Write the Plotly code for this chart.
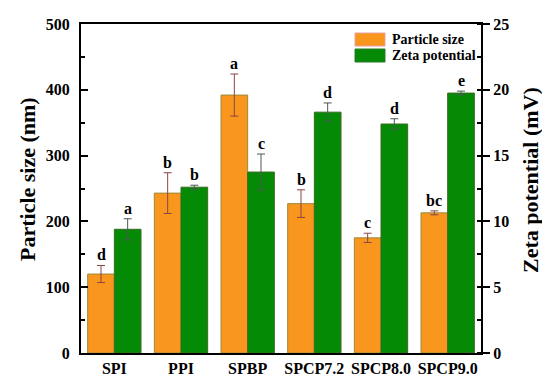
import plotly.graph_objects as go

categories = ["SPI", "PPI", "SPBP", "SPCP7.2", "SPCP8.0", "SPCP9.0"]
particle_size = [120, 243, 392, 227, 175, 213]
particle_err = [13, 31, 32, 21, 7, 3]
zeta = [9.4, 12.6, 13.75, 18.3, 17.4, 19.75]
zeta_err = [0.8, 0.15, 1.37, 0.7, 0.4, 0.15]
size_letters = ["d", "b", "a", "b", "c", "bc"]
zeta_letters = ["a", "b", "c", "d", "d", "e"]

FONT = "Liberation Serif, Times New Roman, serif"
ORANGE = "#F8961E"
GREEN = "#058A05"

fig = go.Figure()
fig.add_trace(go.Bar(
    x=categories, y=particle_size, name="Particle size",
    marker=dict(color=ORANGE, line=dict(color="#9A8A3A", width=1)),
    error_y=dict(type="data", array=particle_err, color="#8B4545", thickness=1, width=4),
    width=0.4, offset=-0.4, yaxis="y", showlegend=False,
))
fig.add_trace(go.Bar(
    x=categories, y=zeta, name="Zeta potential",
    marker=dict(color=GREEN, line=dict(color="#3A6A22", width=1)),
    error_y=dict(type="data", array=zeta_err, color="#4A5A55", thickness=1, width=4),
    width=0.4, offset=0.0, yaxis="y2", showlegend=False,
))

annotations = []
for i in range(len(categories)):
    annotations.append(dict(x=i - 0.2, y=particle_size[i] + particle_err[i], xref="x", yref="y",
                            text="<b>%s</b>" % size_letters[i], showarrow=False, yanchor="bottom",
                            yshift=0, font=dict(family=FONT, size=16, color="black")))
    annotations.append(dict(x=i + 0.2, y=zeta[i] + zeta_err[i], xref="x", yref="y2",
                            text="<b>%s</b>" % zeta_letters[i], showarrow=False, yanchor="bottom",
                            yshift=0, font=dict(family=FONT, size=16, color="black")))

# axis titles (page pixel positions)
annotations.append(dict(x=27, y=179, xref="paper", yref="paper", text="<b>Particle size (nm)</b>",
                        textangle=-90, showarrow=False, xanchor="center", yanchor="middle",
                        font=dict(family=FONT, size=22, color="black")))
annotations.append(dict(x=531, y=180, xref="paper", yref="paper", text="<b>Zeta potential (mV)</b>",
                        textangle=-90, showarrow=False, xanchor="center", yanchor="middle",
                        font=dict(family=FONT, size=22, color="black")))

# legend (manual)
legend_items = [("Particle size", ORANGE, "#E8A0A0"), ("Zeta potential", GREEN, "#2A7A2A")]
shapes = []
for k, (name, col, edge) in enumerate(legend_items):
    y0 = 33 + k * 16
    shapes.append(dict(type="rect", xref="paper", yref="paper", x0=355, x1=385, y0=y0, y1=y0 + 13,
                       fillcolor=col, line=dict(color=edge, width=1)))
    annotations.append(dict(x=390, y=y0 + 6.5, xref="paper", yref="paper", text="<b>%s</b>" % name,
                            showarrow=False, xanchor="left", yanchor="middle",
                            font=dict(family=FONT, size=14, color="black")))

# page body has an 8px margin; compensate so the plot sits at page px 81..481 x 24..353
BODY = 8
W, H = 550 - BODY, 383 - BODY
PL, PR, PT, PB = 81, 481, 24, 353  # page pixel plot box
L, T = PL - BODY, PT - BODY
R, B = W - (PR - BODY), H - (PB - BODY)
pw, ph = PR - PL, PB - PT
for a in annotations:
    if a["xref"] == "paper":
        a["x"] = (a["x"] - PL) / pw
        a["y"] = 1 - (a["y"] - PT) / ph
for s in shapes:
    s["x0"] = (s["x0"] - PL) / pw
    s["x1"] = (s["x1"] - PL) / pw
    y0, y1 = s["y0"], s["y1"]
    s["y0"] = 1 - (y1 - PT) / ph
    s["y1"] = 1 - (y0 - PT) / ph

fig.update_layout(
    template="none",
    width=W, height=H,
    margin=dict(l=L, r=R, t=T, b=B, pad=0, autoexpand=False),
    paper_bgcolor="white", plot_bgcolor="white",
    font=dict(family=FONT, size=16, color="black"),
    annotations=annotations, shapes=shapes,
    bargap=0.2,
    xaxis=dict(type="category", categoryorder="array", categoryarray=categories, range=[-0.5, 5.5],
               showline=True, linecolor="black", linewidth=2, mirror=True,
               ticks="", showgrid=False, zeroline=False, automargin=False,
               tickmode="array", tickvals=categories,
               ticktext=["<b>%s</b>" % c for c in categories],
               tickfont=dict(family=FONT, size=16, color="black")),
    yaxis=dict(range=[0, 500], dtick=100, showgrid=False, zeroline=False, automargin=False,
               showline=True, linecolor="black", linewidth=2,
               ticks="inside", ticklen=7, tickwidth=1.5, tickcolor="black",
               minor=dict(ticks="inside", ticklen=4, dtick=50, tickcolor="black", tickwidth=1.5,
                          showgrid=False),
               tickprefix="<b>", ticksuffix="</b>",
               tickfont=dict(family=FONT, size=16, color="black"), ticklabelstandoff=6),
    yaxis2=dict(range=[0, 25], dtick=5, overlaying="y", side="right",
                showgrid=False, zeroline=False, automargin=False,
                showline=True, linecolor="black", linewidth=2,
                ticks="outside", ticklen=7, tickwidth=1.5, tickcolor="black",
                minor=dict(ticks="inside", ticklen=4, dtick=2.5, tickcolor="black", tickwidth=1.5,
                           showgrid=False),
                tickprefix="<b>", ticksuffix="</b>",
                tickfont=dict(family=FONT, size=16, color="black")),
)

fig.write_html("out.html")
